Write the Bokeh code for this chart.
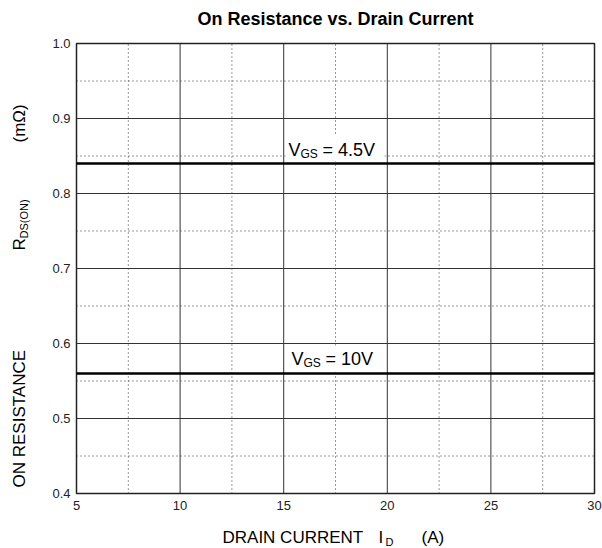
import math
from bokeh.plotting import figure
from bokeh.models import Range1d
from bokeh.core.properties import value
from bokeh.embed import file_html
from bokeh.resources import INLINE

# ---- data ----
drain_current = [5, 30]
r_on_vgs_4v5 = [0.84, 0.84]
r_on_vgs_10v = [0.56, 0.56]
x_ticks = [5, 10, 15, 20, 25, 30]
x_tick_labels = ["5", "10", "15", "20", "25", "30"]
x_minor = [7.5, 12.5, 17.5, 22.5, 27.5]
y_ticks = [0.4, 0.5, 0.6, 0.7, 0.8, 0.9, 1.0]
y_tick_labels = ["0.4", "0.5", "0.6", "0.7", "0.8", "0.9", "1.0"]
y_minor = [0.45, 0.55, 0.65, 0.75, 0.85, 0.95]
x_lim = (5, 30)
y_lim = (0.4, 1.0)

FONT = "Liberation Sans"
W, H = 602, 548
# plot area geometry on the page (pixels)
FL, FR, FT, FB = 76, 594, 43, 493
sx = (FR - FL) / (x_lim[1] - x_lim[0])
sy = (FB - FT) / (y_lim[1] - y_lim[0])
BASE_FIX = 6  # renderer draws alphabetic baseline ~6px lower

def dx(px):
    return x_lim[0] + (px - FL) / sx

def dy(py):
    return y_lim[1] - (py - FT) / sy

p = figure(width=W, height=H, output_backend="svg", toolbar_location=None,
           x_range=Range1d(dx(0), dx(W)), y_range=Range1d(dy(H), dy(0)),
           min_border=0, x_axis_type=None, y_axis_type=None)
p.outline_line_color = None
p.xgrid.visible = False
p.ygrid.visible = False
p.background_fill_color = "white"
p.border_fill_color = "white"

GRID = "#333333"
# minor (dotted) grid
p.segment(x0=x_minor, x1=x_minor, y0=[y_lim[0]] * len(x_minor), y1=[y_lim[1]] * len(x_minor),
          line_color=GRID, line_width=1, line_dash="1 3")
p.segment(x0=[x_lim[0]] * len(y_minor), x1=[x_lim[1]] * len(y_minor), y0=y_minor, y1=y_minor,
          line_color=GRID, line_width=1, line_dash="1 3")
# major grid
p.segment(x0=x_ticks[1:-1], x1=x_ticks[1:-1], y0=[y_lim[0]] * 4, y1=[y_lim[1]] * 4,
          line_color=GRID, line_width=1)
p.segment(x0=[x_lim[0]] * 5, x1=[x_lim[1]] * 5, y0=y_ticks[1:-1], y1=y_ticks[1:-1],
          line_color=GRID, line_width=1)
# frame
p.quad(left=[x_lim[0]], right=[x_lim[1]], bottom=[y_lim[0]], top=[y_lim[1]],
       fill_color=None, line_color="#222222", line_width=1.5)

# curves
p.line(drain_current, r_on_vgs_4v5, line_color="black", line_width=2.5)
p.line(drain_current, r_on_vgs_10v, line_color="black", line_width=2.5)

# tick labels
p.text(x=x_ticks, y=[y_lim[0]] * len(x_ticks), text=x_tick_labels, text_font=value(FONT),
       text_font_size="13px", text_color="#222222", text_align="center",
       text_baseline="top", y_offset=7)
p.text(x=[x_lim[0]] * len(y_ticks), y=y_ticks, text=y_tick_labels, text_font=value(FONT),
       text_font_size="13px", text_color="#222222", text_align="right",
       text_baseline="middle", x_offset=-6)

# white boxes behind curve labels
p.quad(left=[dx(285), dx(288)], right=[dx(384), dx(378)], top=[dy(134), dy(345)],
       bottom=[dy(161), dy(371)], fill_color="white", line_color=None)

def lab(px, py, text, size, angle=0.0, bold=False, align="left"):
    if angle:
        px -= BASE_FIX
    else:
        py -= BASE_FIX
    p.text(x=[dx(px)], y=[dy(py)], text=[text], text_font=value(FONT),
           text_font_size=f"{size}px", text_color="black",
           text_font_style="bold" if bold else "normal",
           text_baseline="alphabetic", text_align=align, angle=angle)

# title
lab((FL + FR) / 2, 24, "On Resistance vs. Drain Current", 18, bold=True, align="center")

# curve labels
lab(288, 155, "V", 18)
lab(300, 159, "GS", 12)
lab(322, 155, "= 4.5V", 18)
lab(291, 364, "V", 18)
lab(303, 368, "GS", 12)
lab(325, 364, "= 10V", 18)

# x axis label
lab(222, 543, "DRAIN CURRENT", 17)
lab(378, 543, "I", 17)
lab(385, 547, "D", 11)
lab(421, 543, "(A)", 17)

# y axis label (rotated)
A = math.pi / 2
lab(25, 487, "ON RESISTANCE", 17, A)
lab(25, 250, "R", 17, A)
lab(29, 238, "DS(ON)", 11, A)
lab(25, 142, "(m\u03a9)", 17, A)

open("out.html", "w").write(file_html(p, INLINE))
